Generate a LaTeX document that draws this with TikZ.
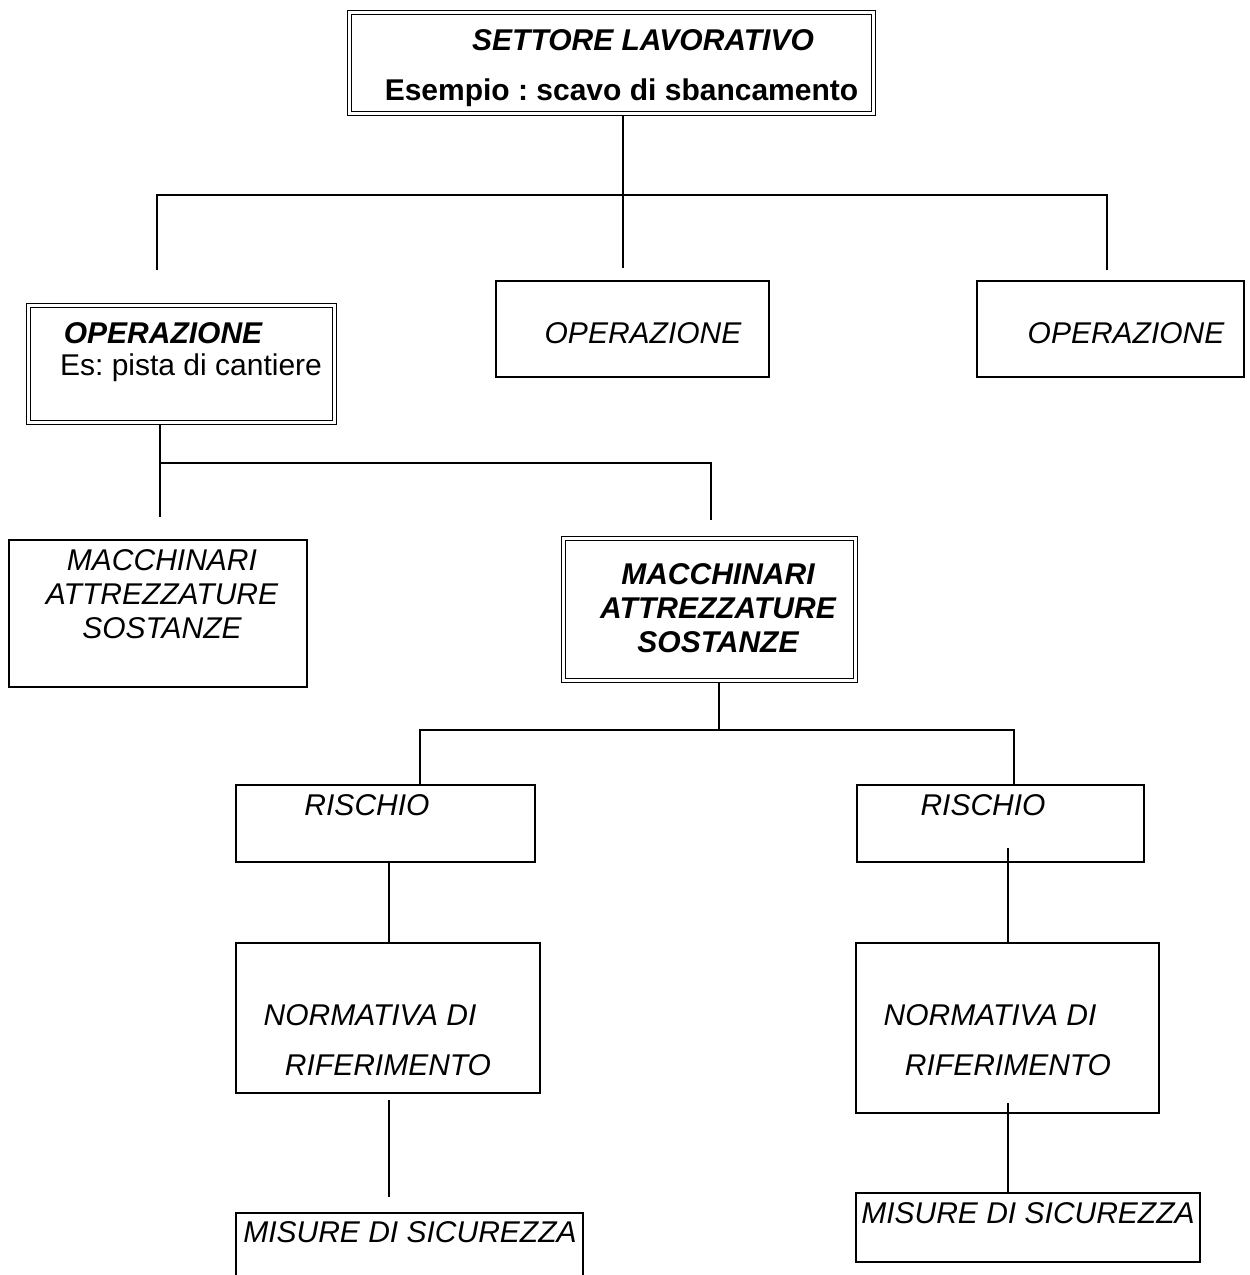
\documentclass[tikz,border=0pt]{standalone}
\usepackage{fontspec}
\setmainfont{Liberation Sans}
\begin{document}
\frenchspacing
\begin{tikzpicture}[x=1pt,y=-1pt,
  box/.style={draw, line width=1.8pt, inner sep=0pt, outer sep=0pt},
  dbox/.style={draw, line width=1.2pt, double, double distance=2.6pt, inner sep=0pt, outer sep=0pt},
  lbl/.style={inner sep=0pt, font=\fontsize{30}{34}\selectfont\itshape, align=center},
  blbl/.style={inner sep=0pt, font=\fontsize{30}{34}\selectfont\bfseries\itshape, align=center},
  rlbl/.style={inner sep=0pt, font=\fontsize{30}{34}\selectfont, align=center},
  bold/.style={inner sep=0pt, font=\fontsize{30}{34}\selectfont\bfseries, align=center},
  conn/.style={line width=1.5pt}]
\useasboundingbox (0,0) rectangle (1250,1275);
\fill[white] (0,0) rectangle (1250,1275);

% boxes
\node[dbox, minimum width=524pt, minimum height=101pt] (top) at (611.5,63) {};
\node[dbox, minimum width=306pt, minimum height=117pt] (opL) at (181.5,364) {};
\node[box, minimum width=273pt, minimum height=96pt] (opM) at (632.5,329) {};
\node[box, minimum width=267pt, minimum height=96pt] (opR) at (1110.5,329) {};
\node[box, minimum width=298pt, minimum height=147pt] (maL) at (158,613.5) {};
\node[dbox, minimum width=292pt, minimum height=142pt] (maR) at (709.5,609.5) {};
\node[box, minimum width=299pt, minimum height=77pt] (riL) at (385.5,823.5) {};
\node[box, minimum width=287pt, minimum height=77pt] (riR) at (1000.5,823.5) {};
\node[box, minimum width=304pt, minimum height=150pt] (noL) at (388,1018) {};
\node[box, minimum width=303pt, minimum height=170pt] (noR) at (1007.5,1028) {};
\node[box, minimum width=347pt, minimum height=100pt] (miL) at (409.5,1263) {};
\node[box, minimum width=344pt, minimum height=69pt] (miR) at (1028,1227.5) {};

% texts
\node[blbl] (t1) at (643,40) {SETTORE LAVORATIVO};
\node[bold] (t2) at (621.5,93) {Esempio : scavo di sbancamento};
\node[blbl] (t3) at (163,333) {OPERAZIONE};
\node[rlbl] (t4) at (191,368) {Es: pista di cantiere};
\node[lbl] (t5) at (643,333) {OPERAZIONE};
\node[lbl] (t6) at (1126,333) {OPERAZIONE};
\node[lbl] (t7) at (162,594) {MACCHINARI\\ATTREZZATURE\\SOSTANZE};
\node[blbl] (t8) at (718,608) {MACCHINARI\\ATTREZZATURE\\SOSTANZE};
\node[lbl] (t9) at (367,805) {RISCHIO};
\node[lbl] (t10) at (983,805) {RISCHIO};
\node[lbl] (t11) at (370,1015) {NORMATIVA DI};
\node[lbl] (t12) at (388,1065) {RIFERIMENTO};
\node[lbl] (t13) at (990,1015) {NORMATIVA DI};
\node[lbl] (t14) at (1008,1065) {RIFERIMENTO};
\node[lbl] (t15) at (410,1232) {MISURE DI SICUREZZA};
\node[lbl] (t16) at (1028,1213) {MISURE DI SICUREZZA};

% junction coordinates
\coordinate (a0) at (623,116);
\coordinate (a1) at (623,268);
\coordinate (h1) at (157,195);
\coordinate (h2) at (1107,195);
\coordinate (b1) at (157,270);
\coordinate (b2) at (1107,270);
\coordinate (c0) at (160,425);
\coordinate (c1) at (160,517);
\coordinate (c2) at (160,463);
\coordinate (c3) at (711,463);
\coordinate (c4) at (711,520);
\coordinate (d0) at (719,683);
\coordinate (d1) at (719,730);
\coordinate (d2) at (420,730);
\coordinate (d3) at (1014,730);
\coordinate (e1) at (389,862);
\coordinate (e2) at (389,943);
\coordinate (f1) at (1008,848);
\coordinate (f2) at (1008,943);
\coordinate (g1) at (389,1100);
\coordinate (g2) at (389,1197);
\coordinate (k1) at (1008,1103);
\coordinate (k2) at (1008,1193);

% connectors
\draw[conn] (a0) -- (a1);
\draw[conn] (b1) -- (h1) -- (h2) -- (b2);
\draw[conn] (c0) -- (c1);
\draw[conn] (c2) -- (c3) -- (c4);
\draw[conn] (d0) -- (d1);
\draw[conn] (riL.north -| d2) -- (d2) -- (d3) -- (riR.north -| d3);
\draw[conn] (e1) -- (e2);
\draw[conn] (f1) -- (f2);
\draw[conn] (g1) -- (g2);
\draw[conn] (k1) -- (k2);
\end{tikzpicture}
\end{document}
